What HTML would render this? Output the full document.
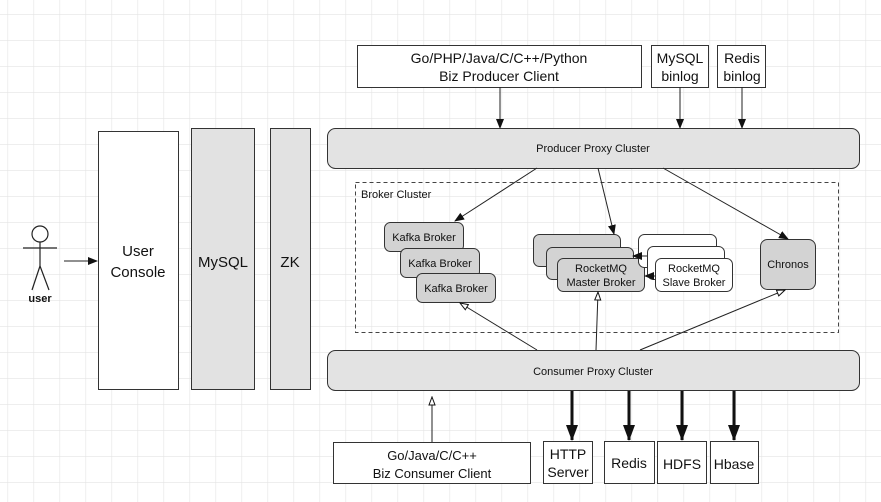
<!DOCTYPE html>
<html><head><meta charset="utf-8"><style>
html,body{margin:0;padding:0;background:#fff}
svg{display:block}
text{font-family:"Liberation Sans",Arial,sans-serif;fill:#111}
</style></head><body>
<svg width="881" height="502" viewBox="0 0 881 502" xmlns="http://www.w3.org/2000/svg">
<defs>
<pattern id="g" x="7.5" y="14" width="26" height="26" patternUnits="userSpaceOnUse">
<path d="M0 0H26M0 0V26" stroke="#e4e4e4" stroke-width="1.2" fill="none"/>
</pattern>
<marker id="a" markerWidth="10" markerHeight="8" refX="9" refY="4" orient="auto" markerUnits="userSpaceOnUse"><path d="M0,0 L10,4 L0,8 z" fill="#111"/></marker>
<marker id="h" markerWidth="10" markerHeight="8" refX="9" refY="4" orient="auto" markerUnits="userSpaceOnUse"><path d="M1,1 L9,4 L1,7 z" fill="#fff" stroke="#111" stroke-width="1"/></marker>
<marker id="b" markerWidth="16" markerHeight="12" refX="15" refY="6" orient="auto" markerUnits="userSpaceOnUse"><path d="M0,0 L16,6 L0,12 z" fill="#111"/></marker>
</defs>
<rect width="881" height="502" fill="url(#g)"/>

<g stroke="#222" stroke-width="1.2" fill="none">
<circle cx="40" cy="234" r="8" fill="#fff"/>
<line x1="23" y1="248" x2="57" y2="248"/>
<line x1="40" y1="242" x2="40" y2="266"/>
<line x1="40" y1="266" x2="32" y2="290"/>
<line x1="40" y1="266" x2="49" y2="290"/>
</g>
<text x="40" y="302" font-size="11" font-weight="bold" text-anchor="middle">user</text>
<line x1="64" y1="261" x2="97" y2="261" stroke="#222" stroke-width="1" marker-end="url(#a)"/>

<rect x="98.5" y="131.5" width="80" height="258" fill="#fff" stroke="#333"/>
<text x="138" y="256" font-size="15" text-anchor="middle">User</text>
<text x="138" y="277" font-size="15" text-anchor="middle">Console</text>
<rect x="191.5" y="128.5" width="63" height="261" fill="#e2e2e2" stroke="#333"/>
<text x="223" y="267" font-size="15" text-anchor="middle">MySQL</text>
<rect x="270.5" y="128.5" width="40" height="261" fill="#e2e2e2" stroke="#333"/>
<text x="290" y="267" font-size="15" text-anchor="middle">ZK</text>

<rect x="357.5" y="45.5" width="284" height="42" fill="#fff" stroke="#333"/>
<text x="499" y="63" font-size="14" text-anchor="middle">Go/PHP/Java/C/C++/Python</text>
<text x="499" y="81" font-size="14" text-anchor="middle">Biz Producer Client</text>
<rect x="651.5" y="45.5" width="57" height="42" fill="#fff" stroke="#333"/>
<text x="680" y="63" font-size="14" text-anchor="middle">MySQL</text>
<text x="680" y="81" font-size="14" text-anchor="middle">binlog</text>
<rect x="717.5" y="45.5" width="48" height="42" fill="#fff" stroke="#333"/>
<text x="742" y="63" font-size="14" text-anchor="middle">Redis</text>
<text x="742" y="81" font-size="14" text-anchor="middle">binlog</text>
<g stroke="#222" stroke-width="1" marker-end="url(#a)">
<line x1="500" y1="87" x2="500" y2="128"/>
<line x1="680" y1="87" x2="680" y2="128"/>
<line x1="742" y1="87" x2="742" y2="128"/>
</g>

<rect x="327.5" y="128.5" width="532" height="40" rx="8" fill="#e3e3e3" stroke="#333"/>
<text x="593" y="152" font-size="11" text-anchor="middle">Producer Proxy Cluster</text>

<rect x="355.5" y="182.5" width="483" height="150" fill="none" stroke="#444" stroke-dasharray="4,3"/>
<text x="361" y="198" font-size="11">Broker Cluster</text>

<g stroke="#333" fill="#d3d3d3">
<rect x="384.5" y="222.5" width="79" height="29" rx="6"/>
<rect x="400.5" y="248.5" width="79" height="29" rx="6"/>
<rect x="416.5" y="273.5" width="79" height="29" rx="6"/>
</g>
<text x="424" y="241" font-size="11" text-anchor="middle">Kafka Broker</text>
<text x="440" y="267" font-size="11" text-anchor="middle">Kafka Broker</text>
<text x="456" y="292" font-size="11" text-anchor="middle">Kafka Broker</text>

<g stroke="#333" fill="#d3d3d3">
<rect x="533.5" y="234.5" width="87" height="32" rx="6"/>
<rect x="546.5" y="247.5" width="87" height="32" rx="6"/>
<rect x="557.5" y="258.5" width="87" height="33" rx="6"/>
</g>
<text x="601" y="272" font-size="11" text-anchor="middle">RocketMQ</text>
<text x="601" y="286" font-size="11" text-anchor="middle">Master Broker</text>
<g stroke="#333" fill="#fff">
<rect x="638.5" y="234.5" width="78" height="33" rx="6"/>
<rect x="647.5" y="246.5" width="77" height="33" rx="6"/>
<rect x="655.5" y="258.5" width="77" height="33" rx="6"/>
</g>
<text x="694" y="272" font-size="11" text-anchor="middle">RocketMQ</text>
<text x="694" y="286" font-size="11" text-anchor="middle">Slave Broker</text>
<g stroke="#222" stroke-width="1" marker-end="url(#a)">
<line x1="655" y1="276" x2="645" y2="276"/>
<line x1="647" y1="256" x2="633" y2="256"/>
</g>

<rect x="760.5" y="239.5" width="55" height="50" rx="7" fill="#d3d3d3" stroke="#333"/>
<text x="788" y="268" font-size="11" text-anchor="middle">Chronos</text>

<g stroke="#222" stroke-width="1" marker-end="url(#a)">
<line x1="537" y1="168" x2="455" y2="221"/>
<line x1="598" y1="168" x2="614" y2="234"/>
<line x1="663" y1="168" x2="788" y2="239"/>
</g>
<g stroke="#222" stroke-width="1" marker-end="url(#h)">
<line x1="537" y1="350" x2="460" y2="303"/>
<line x1="596" y1="350" x2="598" y2="292"/>
<line x1="640" y1="350" x2="785" y2="290"/>
</g>

<rect x="327.5" y="350.5" width="532" height="40" rx="8" fill="#e3e3e3" stroke="#333"/>
<text x="593" y="375" font-size="11" text-anchor="middle">Consumer Proxy Cluster</text>

<line x1="432" y1="442" x2="432" y2="397" stroke="#222" stroke-width="1" marker-end="url(#h)"/>
<g stroke="#111" stroke-width="3" marker-end="url(#b)">
<line x1="572" y1="391" x2="572" y2="440"/>
<line x1="629" y1="391" x2="629" y2="440"/>
<line x1="682" y1="391" x2="682" y2="440"/>
<line x1="734" y1="391" x2="734" y2="440"/>
</g>

<rect x="333.5" y="442.5" width="197" height="41" fill="#fff" stroke="#333"/>
<text x="432" y="460" font-size="13" text-anchor="middle">Go/Java/C/C++</text>
<text x="432" y="478" font-size="13" text-anchor="middle">Biz Consumer Client</text>
<g stroke="#333" fill="#fff">
<rect x="543.5" y="441.5" width="49" height="42"/>
<rect x="604.5" y="441.5" width="50" height="42"/>
<rect x="657.5" y="441.5" width="49" height="42"/>
<rect x="710.5" y="441.5" width="48" height="42"/>
</g>
<text x="568" y="459" font-size="14" text-anchor="middle">HTTP</text>
<text x="568" y="477" font-size="14" text-anchor="middle">Server</text>
<text x="629" y="468" font-size="14" text-anchor="middle">Redis</text>
<text x="682" y="469" font-size="14" text-anchor="middle">HDFS</text>
<text x="734" y="469" font-size="14" text-anchor="middle">Hbase</text>
</svg>
</body></html>
